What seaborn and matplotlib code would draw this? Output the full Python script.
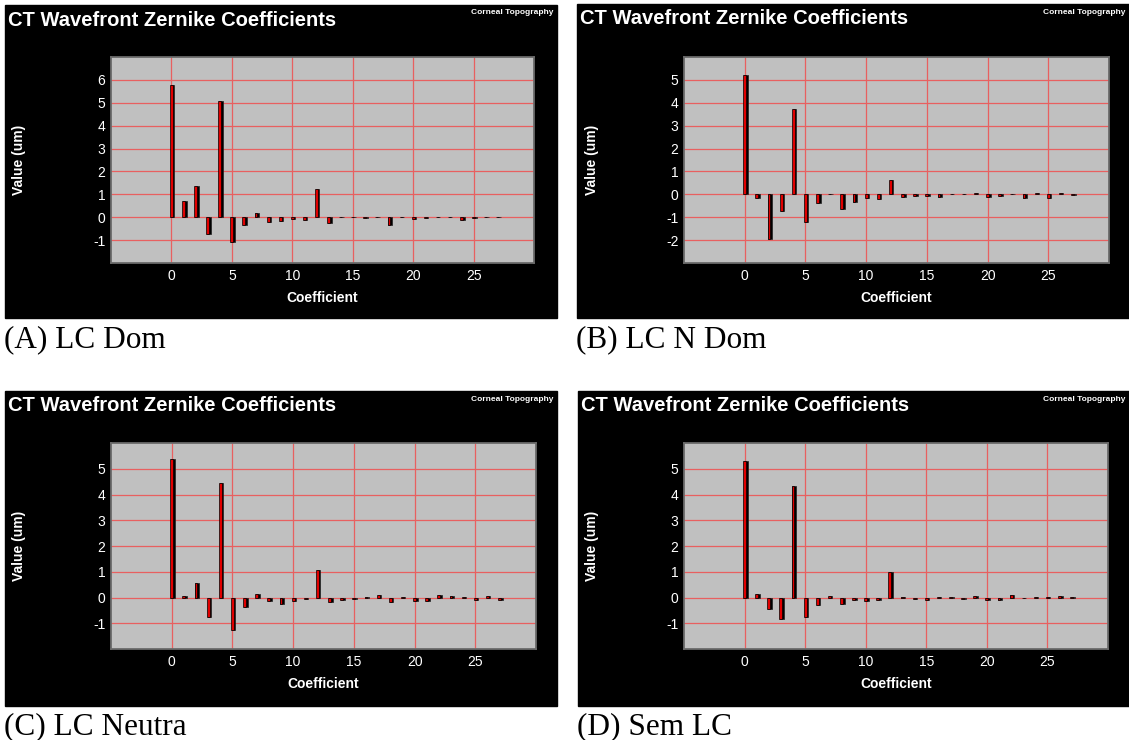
import matplotlib
matplotlib.use('Agg')
import matplotlib.pyplot as plt
import seaborn as sns
import pandas as pd

# --- Data ---
coef = list(range(28))

lc_dom = [5.77, 0.72, 1.38, -0.72, 5.07, -1.09, -0.32, 0.20, -0.19, -0.15,
          -0.07, -0.12, 1.23, -0.26, 0.03, 0.02, -0.05, 0.03, -0.35, 0.03,
          -0.06, -0.04, 0.03, 0.02, -0.11, -0.05, 0.02, 0.03]
lc_n_dom = [5.22, -0.14, -1.93, -0.72, 3.74, -1.20, -0.36, 0.03, -0.62, -0.32,
            -0.14, -0.20, 0.64, -0.12, -0.08, -0.07, -0.11, 0.02, 0.03, 0.07,
            -0.11, -0.07, 0.02, -0.17, 0.07, -0.17, 0.08, -0.05]
lc_neutra = [5.36, 0.06, 0.57, -0.75, 4.46, -1.27, -0.36, 0.15, -0.14, -0.27,
             -0.14, -0.07, 1.06, -0.19, -0.08, -0.07, 0.02, 0.09, -0.17, 0.02,
             -0.13, -0.12, 0.09, 0.05, 0.03, -0.08, 0.05, -0.08]
sem_lc = [5.30, 0.14, -0.45, -0.84, 4.33, -0.75, -0.30, 0.04, -0.26, -0.10,
          -0.13, -0.08, 1.00, 0.03, -0.04, -0.10, 0.02, 0.02, -0.04, 0.05,
          -0.08, -0.11, 0.08, -0.03, 0.02, 0.02, 0.05, 0.03]

captions = ['(A) LC Dom', '(B) LC N Dom', '(C) LC Neutra', '(D) Sem LC']
series = [lc_dom, lc_n_dom, lc_neutra, sem_lc]
ylims = [(-2, 7), (-3, 6), (-2, 6), (-2, 6)]

title = 'CT Wavefront Zernike Coefficients'
badge = 'Corneal Topography'

# --- Layout in pixels: (black panel box, gray plot box, caption y) ---
W, H = 1129, 740
layout = [
    ((5, 5, 557, 318), (111, 57, 534, 263), 340),
    ((577, 4, 1129, 318), (684, 57, 1109, 263), 340),
    ((5, 391, 557, 706), (111, 443, 536, 649), 727),
    ((578, 391, 1129, 706), (684, 443, 1108, 649), 727),
]

sns.set_theme(style='white')
plt.rcParams['font.family'] = ['Liberation Sans', 'DejaVu Sans']
plt.rcParams['axes.unicode_minus'] = False

fig = plt.figure(figsize=(W / 100, H / 100), dpi=100)
fig.patch.set_facecolor('white')


def fx(x):
    return x / W


def fy(y):
    return 1 - y / H


for vals, cap, ylim, (box, plot, cap_y) in zip(series, captions, ylims, layout):
    x0, y0, x1, y1 = box
    fig.patches.append(plt.Rectangle((fx(x0), fy(y1)), fx(x1 - x0), (y1 - y0) / H,
                                     transform=fig.transFigure, color='black', zorder=-10))
    fig.text(fx(x0 + 3), fy(y0 + 15), title, color='white', fontsize=14.5,
             fontweight='bold', va='center', ha='left')
    fig.text(fx(x1 - 4), fy(y0 + 8), badge, color='white', fontsize=6,
             fontweight='bold', va='center', ha='right')
    fig.text(fx(x0 - 1), fy(cap_y), cap, color='black', fontsize=22.5,
             family=['Liberation Serif', 'DejaVu Serif'], va='center', ha='left')

    px0, py0, px1, py1 = plot
    ax = fig.add_axes([fx(px0), fy(py1), fx(px1 - px0), (py1 - py0) / H])
    ax.set_facecolor('#c0c0c0')

    df = pd.DataFrame({'Coefficient': coef, 'Value': vals})
    # dark "side" of each bar, then red face on top
    sns.barplot(data=df, x='Coefficient', y='Value', native_scale=True, width=0.3,
                color='black', edgecolor='#202020', linewidth=0.5, saturation=1,
                ax=ax, zorder=3)
    for p in ax.patches:
        p.set_x(p.get_x() + 0.1)
    sns.barplot(data=df, x='Coefficient', y='Value', native_scale=True, width=0.24,
                color='#e00000', saturation=1, edgecolor='black', linewidth=0.5,
                ax=ax, zorder=4)

    ax.set_xlim(-5, 30)
    ax.set_ylim(*ylim)
    ax.set_xticks(range(0, 30, 5))
    ax.set_yticks(range(ylim[0] + 1, ylim[1]))
    ax.grid(True, color='#e86060', linewidth=0.9, zorder=1)
    ax.set_axisbelow(True)
    ax.tick_params(colors='white', labelsize=10, length=0, pad=4)
    for s in ax.spines.values():
        s.set_color('#6a6a6a')
        s.set_linewidth(1.3)
    ax.set_xlabel('Coefficient', color='white', fontsize=10, fontweight='bold')
    ax.set_ylabel('Value (um)', color='white', fontsize=10, fontweight='bold')
    ax.xaxis.set_label_coords(0.5, -0.135)
    ax.yaxis.set_label_coords(-0.2, 0.5)

fig.savefig('out.png', dpi=100, facecolor='white')
